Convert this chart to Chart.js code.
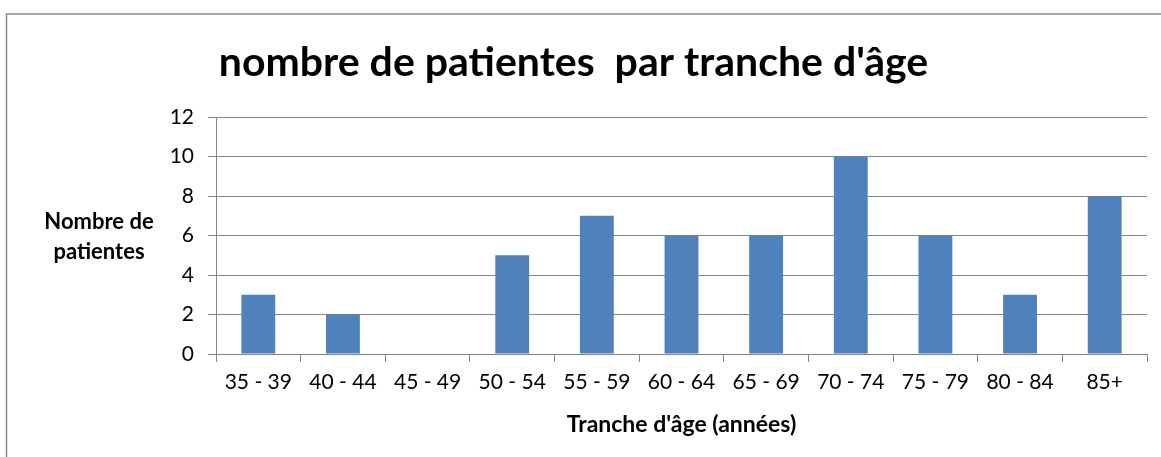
<!DOCTYPE html>
<html lang="fr">
<head>
<meta charset="utf-8">
<title>nombre de patientes par tranche d'âge</title>
<script src="https://cdn.jsdelivr.net/npm/chart.js@4/dist/chart.umd.min.js"></script>
<style>
  html, body { margin: 0; padding: 0; background: #fff; }
  #wrap { position: relative; width: 1161px; height: 457px; }
</style>
</head>
<body>
<div id="wrap"><canvas id="chart-age" width="1161" height="457"></canvas></div>
<script>
// données
const categories = ['35 - 39', '40 - 44', '45 - 49', '50 - 54', '55 - 59', '60 - 64', '65 - 69', '70 - 74', '75 - 79', '80 - 84', '85+'];
const patientes  = [3, 2, 0, 5, 7, 6, 6, 10, 6, 3, 8];
const yTicks     = [0, 2, 4, 6, 8, 10, 12];

const chartTitle = "nombre de patientes  par tranche d'âge";
const xTitle     = "Tranche d'âge (années)";
const yTitle     = ['Nombre de', 'patientes'];

const FONT  = 'Lato, "Open Sans", sans-serif';
const BLUE  = '#4f81bd';
const GRID  = '#868686';

// cadre extérieur + titre de l'axe Y (horizontal, sur deux lignes)
const decor = {
  id: 'decor',
  beforeDraw(chart) {
    const ctx = chart.ctx;
    ctx.save();
    ctx.fillStyle = '#fff';
    ctx.fillRect(0, 0, chart.width, chart.height);
    ctx.strokeStyle = '#8c8c8c';
    ctx.lineWidth = 1.5;
    ctx.strokeRect(6.5, 14, chart.width + 20, chart.height + 20);
    ctx.restore();
  },
  afterDraw(chart) {
    const ctx = chart.ctx;
    ctx.save();
    ctx.fillStyle = '#000';
    ctx.font = 'bold 22px ' + FONT;
    ctx.textAlign = 'center';
    ctx.textBaseline = 'alphabetic';
    ctx.fillText(yTitle[0], 99, 229);
    ctx.fillText(yTitle[1], 99, 259);
    ctx.restore();
  }
};

new Chart(document.getElementById('chart-age').getContext('2d'), {
  type: 'bar',
  data: {
    labels: categories,
    datasets: [{
      label: 'Patientes',
      data: patientes,
      backgroundColor: BLUE,
      borderWidth: 0,
      barPercentage: 0.4,
      categoryPercentage: 1,
    }]
  },
  options: {
    responsive: false,
    animation: false,
    layout: { padding: { left: 0, right: 14, top: 0, bottom: 0 } },
    plugins: {
      legend: { display: false },
      tooltip: { enabled: false },
      title: {
        display: true,
        text: chartTitle,
        color: '#000',
        font: { family: FONT, size: 41, weight: 'bold', lineHeight: 1.2 },
        padding: { top: 38, bottom: 30 },
      }
    },
    scales: {
      x: {
        afterFit: s => { s.height = 103; },
        grid: { offset: true, drawOnChartArea: false, drawTicks: true, tickLength: 8, color: GRID },
        border: { color: GRID, width: 1 },
        ticks: { color: '#000', font: { family: FONT, size: 21 }, padding: 8 },
        title: {
          display: true,
          text: xTitle,
          color: '#000',
          font: { family: FONT, size: 23, weight: 'bold' },
          padding: { top: 0, bottom: 19 },
        }
      },
      y: {
        min: 0,
        max: 12,
        afterFit: s => { s.width = 216; },
        afterBuildTicks: s => { s.ticks = yTicks.map(v => ({ value: v })); },
        grid: { color: GRID, tickLength: 8 },
        border: { color: GRID, width: 1 },
        ticks: { color: '#000', font: { family: FONT, size: 21 }, padding: 14 },
      }
    }
  },
  plugins: [decor]
});
</script>
</body>
</html>
